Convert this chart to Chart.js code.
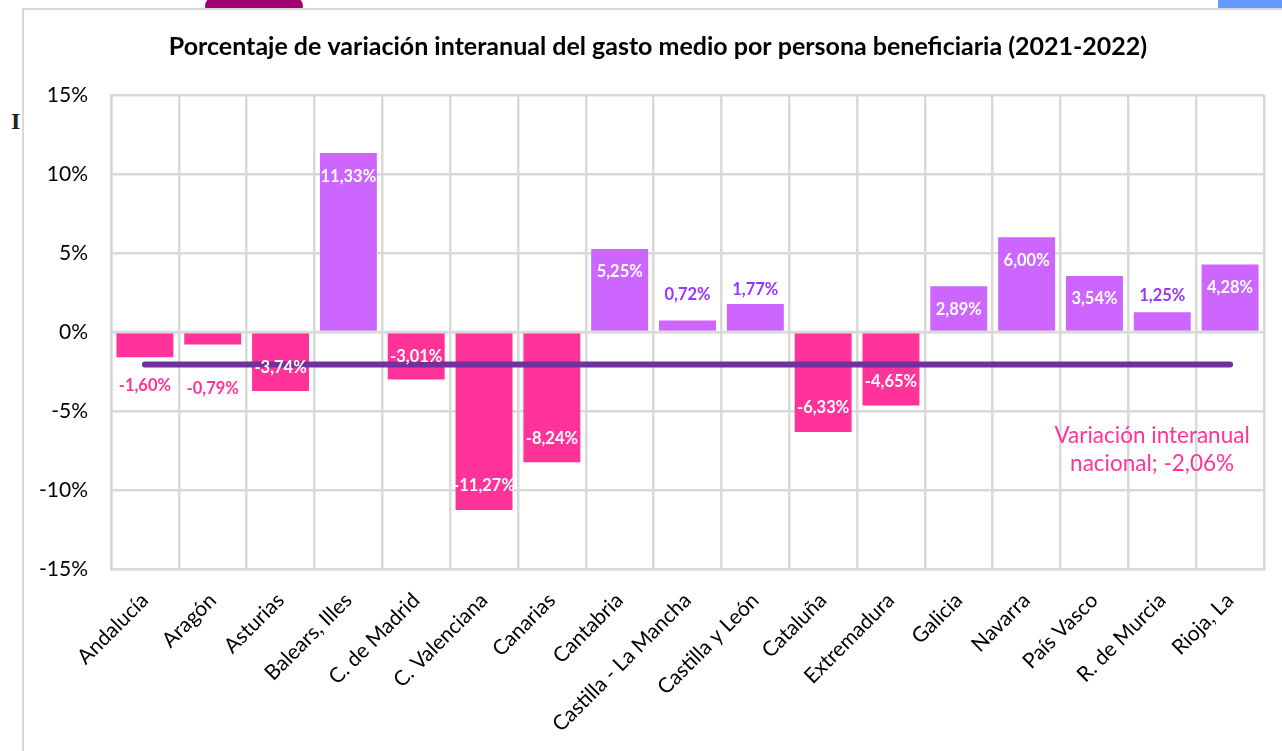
<!DOCTYPE html>
<html lang="es">
  <head>
    <meta charset="utf-8" />
    <title>Variación interanual del gasto medio</title>
    <style>
      * {
        margin: 0;
        padding: 0;
      }
      html,
      body {
        width: 1282px;
        height: 751px;
        overflow: hidden;
        background: white;
      }
      /* bits of the page behind the chart */
      .logo {
        position: absolute;
        left: 205px;
        top: -14px;
        width: 98px;
        height: 40px;
        border-radius: 50%;
        background: #a3006f;
      }
      .badge {
        position: absolute;
        left: 1218px;
        top: 0;
        width: 64px;
        height: 10px;
        background: #6699ff;
      }
      .pageLetter {
        position: absolute;
        left: 11px;
        top: 108px;
        font: bold 24px "Liberation Serif", serif;
        color: #222;
      }
      .card {
        position: absolute;
        left: 22px;
        top: 8px;
        width: 1260px;
        height: 743px;
        background: white;
        border-left: 2px solid #d9d9d9;
        border-top: 2px solid #d9d9d9;
      }
      .chartBox {
        position: absolute;
        left: 0;
        top: 0;
        width: 1282px;
        height: 751px;
      }
    </style>
  </head>
  <body>
    <div class="logo"></div>
    <div class="badge"></div>
    <div class="pageLetter">I</div>
    <div class="card"></div>
    <div class="chartBox">
      <canvas id="myChart" width="1282" height="751"></canvas>
    </div>

    <script src="https://cdn.jsdelivr.net/npm/chart.js"></script>

    <script>
      const categories = [
        "Andalucía",
        "Aragón",
        "Asturias",
        "Balears, Illes",
        "C. de Madrid",
        "C. Valenciana",
        "Canarias",
        "Cantabria",
        "Castilla - La Mancha",
        "Castilla y León",
        "Cataluña",
        "Extremadura",
        "Galicia",
        "Navarra",
        "País Vasco",
        "R. de Murcia",
        "Rioja, La",
      ];
      const variation = [
        -1.6, -0.79, -3.74, 11.33, -3.01, -11.27, -8.24, 5.25, 0.72, 1.77,
        -6.33, -4.65, 2.89, 6.0, 3.54, 1.25, 4.28,
      ];
      const nationalVariation = [
        -2.06, -2.06, -2.06, -2.06, -2.06, -2.06, -2.06, -2.06, -2.06, -2.06,
        -2.06, -2.06, -2.06, -2.06, -2.06, -2.06, -2.06,
      ];
      const nationalLabel = ["Variación interanual", "nacional; -2,06%"];

      const PINK = "#ff3399";
      const LILAC = "#cc66ff";
      const VIOLET = "#9933ff";
      const GRID = "#d9d9d9";

      // Distance of each value label from the bar end. Negative means inside
      // the bar. The original labels were moved by hand so they do not line up.
      const labelGaps = [
        28, 44, -23, -24, -23, -24, -24, -23, 26, 14, -24, -24, -23, -23, -23,
        17, -23,
      ];

      const percent = (v) => v.toFixed(2).replace(".", ",") + "%";

      // Excel style labels: white inside the bar, coloured when outside
      const barLabels = {
        id: "barLabels",
        afterDatasetsDraw(chart) {
          const { ctx } = chart;
          const meta = chart.getDatasetMeta(0);
          ctx.save();
          ctx.font = "bold 16.5px Lato";
          ctx.textAlign = "center";
          ctx.textBaseline = "middle";
          meta.data.forEach((bar, i) => {
            const value = variation[i];
            const gap = labelGaps[i];
            const up = value >= 0 ? -1 : 1;
            if (gap < 0) {
              ctx.fillStyle = "white";
            } else {
              ctx.fillStyle = value >= 0 ? VIOLET : PINK;
            }
            ctx.fillText(percent(value), bar.x, bar.y + up * gap);
          });

          // label of the national line, hangs below its right end
          const line = chart.getDatasetMeta(1).data;
          const last = line[line.length - 1];
          ctx.font = "22.5px Lato";
          ctx.fillStyle = PINK;
          nationalLabel.forEach((text, i) => {
            ctx.fillText(text, last.x - 78, last.y + 71 + i * 28);
          });
          ctx.restore();
        },
      };

      // The zero line sits over the bar bases but under the national line
      const zeroLine = {
        id: "zeroLine",
        beforeDatasetDraw(chart, args) {
          if (args.index !== 1) return;
          const { ctx, chartArea, scales } = chart;
          const y = scales.y.getPixelForValue(0);
          ctx.save();
          ctx.strokeStyle = GRID;
          ctx.lineWidth = 2.5;
          ctx.beginPath();
          ctx.moveTo(chartArea.left, y);
          ctx.lineTo(chartArea.right, y);
          ctx.stroke();
          ctx.restore();
        },
      };

      // The title is centred on the whole chart frame, not on the canvas
      const titleShift = {
        id: "titleShift",
        afterLayout(chart) {
          chart.titleBlock.left += 26;
          chart.titleBlock.right += 26;
        },
      };

      const data = {
        labels: categories,
        datasets: [
          {
            type: "bar",
            data: variation,
            order: 2,
            backgroundColor: variation.map((v) => (v >= 0 ? LILAC : PINK)),
            categoryPercentage: 0.84,
            barPercentage: 1,
          },
          {
            type: "line",
            data: nationalVariation,
            order: 1,
            borderColor: "#7030a0",
            borderWidth: 6,
            borderCapStyle: "round",
            pointRadius: 0,
            tension: 0,
          },
        ],
      };

      const config = {
        data,
        options: {
          responsive: false,
          animation: false,
          layout: {
            padding: { left: 0, right: 18, top: 0, bottom: 0 },
          },
          plugins: {
            legend: { display: false },
            tooltip: { enabled: false },
            title: {
              display: true,
              text: "Porcentaje de variación interanual del gasto medio por persona beneficiaria (2021-2022)",
              color: "#000",
              font: { family: "Lato", size: 25, weight: "bold", lineHeight: 1.2 },
              padding: { top: 32, bottom: 33 },
            },
          },
          scales: {
            x: {
              afterFit(scale) {
                scale.height = 182;
              },
              grid: { color: GRID, lineWidth: 2.5, drawTicks: false },
              border: { color: GRID, width: 2.5 },
              ticks: {
                color: "#000",
                font: { family: "Lato", size: 21 },
                minRotation: 45,
                maxRotation: 45,
                autoSkip: false,
                padding: 19,
              },
            },
            y: {
              min: -15,
              max: 15,
              afterFit(scale) {
                scale.width = 111;
              },
              grid: { color: GRID, lineWidth: 2.5, drawTicks: false },
              border: { color: GRID, width: 2.5 },
              ticks: {
                stepSize: 5,
                color: "#000",
                font: { family: "Lato", size: 21 },
                padding: 23,
                callback: (v) => v + "%",
              },
            },
          },
        },
        plugins: [barLabels, zeroLine, titleShift],
      };

      const myChart = new Chart(document.getElementById("myChart"), config);
    </script>
  </body>
</html>
